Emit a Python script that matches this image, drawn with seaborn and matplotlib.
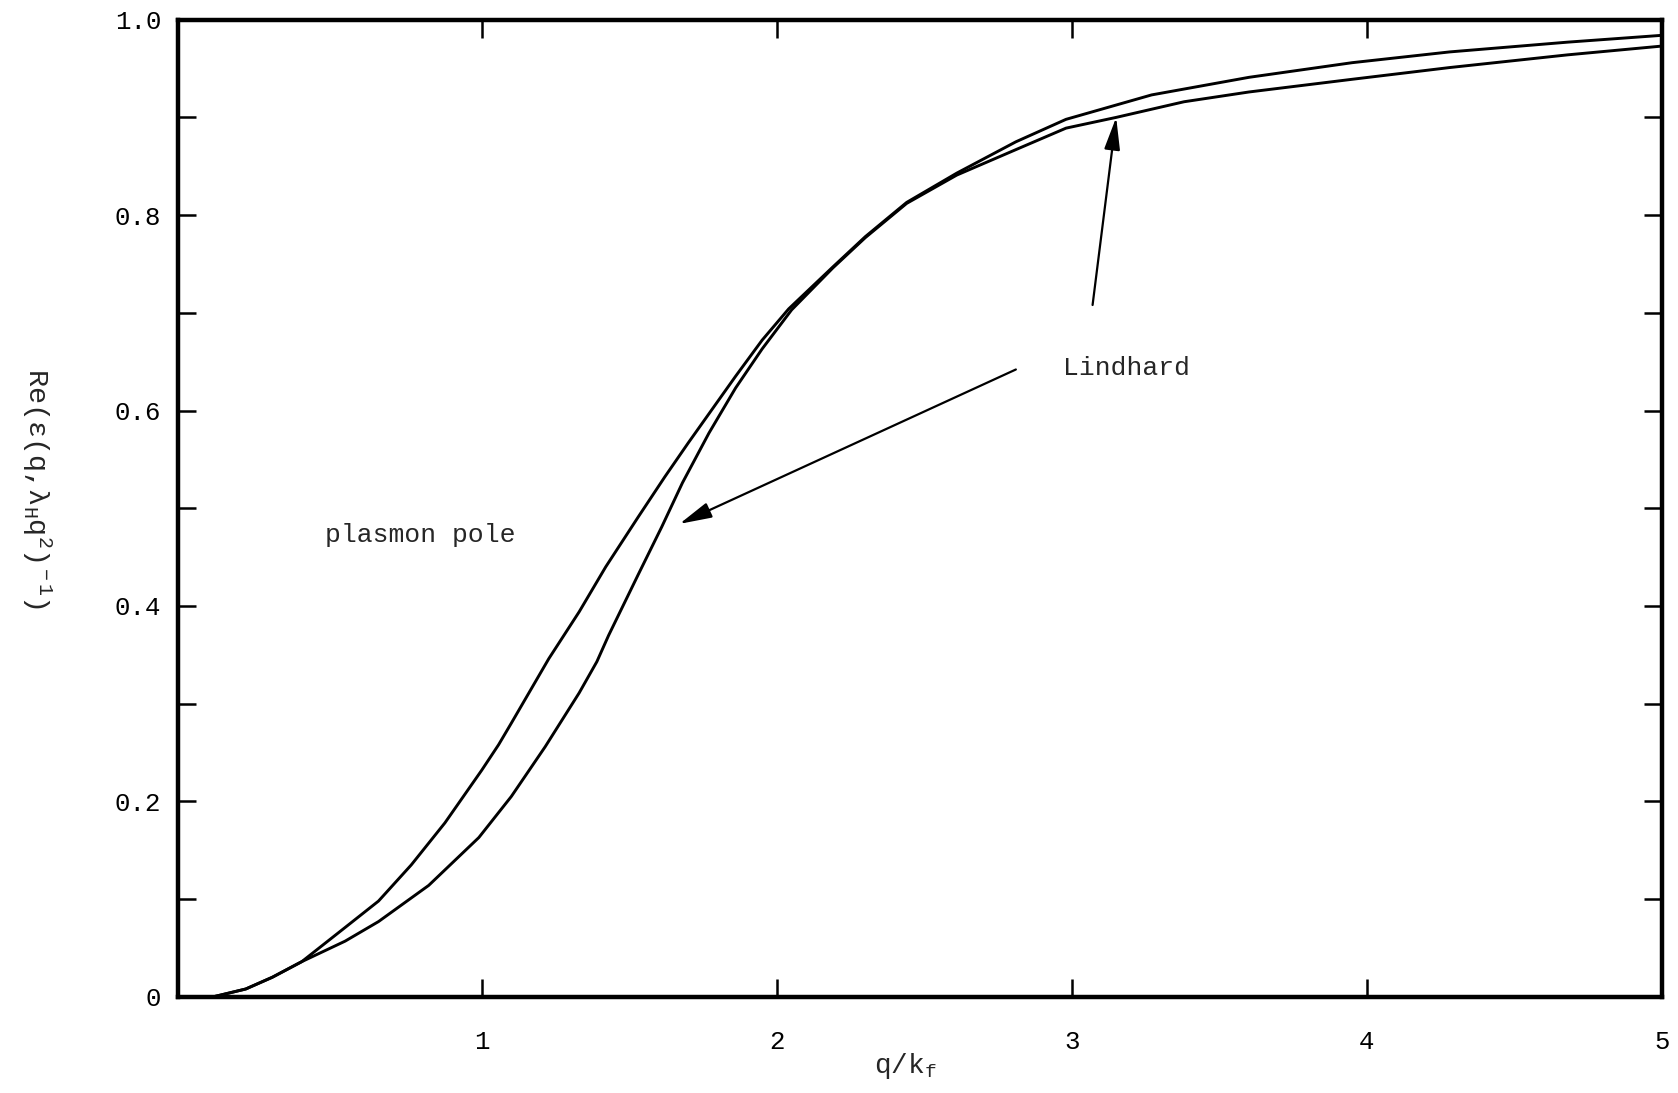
# dielectric_function_plot.py
# Re(eps(q, lambda_H q^2))^-1 vs q/k_f : plasmon pole vs Lindhard

import numpy as np
import pandas as pd
import matplotlib
matplotlib.use("Agg")
import matplotlib.pyplot as plt
import seaborn as sns

# curve values
pole_q = [0.09, 0.20, 0.29, 0.39, 0.537, 0.65, 0.761, 0.875, 1.00, 1.057, 1.10, 1.227,
          1.33, 1.42, 1.53, 1.62, 1.70, 1.78, 1.86, 1.95, 2.04, 2.19, 2.30, 2.44,
          2.61, 2.81, 2.98, 3.27, 3.60, 3.95, 4.28, 4.68, 5.00]
pole_eps = [0.0, 0.008, 0.020, 0.036, 0.071, 0.098, 0.135, 0.178, 0.232, 0.258, 0.280, 0.346,
            0.394, 0.440, 0.491, 0.532, 0.567, 0.601, 0.635, 0.672, 0.704, 0.747, 0.778, 0.813,
            0.843, 0.875, 0.898, 0.923, 0.941, 0.956, 0.967, 0.977, 0.984]

lind_q = [0.09, 0.20, 0.29, 0.39, 0.537, 0.65, 0.82, 0.99, 1.10, 1.215, 1.33, 1.39,
          1.43, 1.53, 1.61, 1.68, 1.77, 1.86, 1.95, 2.05, 2.19, 2.30, 2.44, 2.61,
          2.81, 2.98, 3.15, 3.38, 3.60, 3.95, 4.28, 4.68, 5.00]
lind_eps = [0.0, 0.008, 0.020, 0.036, 0.057, 0.077, 0.114, 0.163, 0.205, 0.256, 0.311, 0.343,
            0.370, 0.432, 0.481, 0.526, 0.577, 0.623, 0.663, 0.703, 0.746, 0.777, 0.812, 0.841,
            0.867, 0.889, 0.900, 0.916, 0.926, 0.939, 0.951, 0.964, 0.973]

x_ticks = [1, 2, 3, 4, 5]
x_ticklabels = ["1", "2", "3", "4", "5"]
y_ticks = [0.0, 0.2, 0.4, 0.6, 0.8, 1.0]
y_ticklabels = ["0", "0.2", "0.4", "0.6", "0.8", "1.0"]

df = pd.concat([
    pd.DataFrame({"q": pole_q, "eps": pole_eps, "model": "plasmon pole"}),
    pd.DataFrame({"q": lind_q, "eps": lind_eps, "model": "Lindhard"}),
])

sns.set_theme(style="ticks")
plt.rcParams["font.family"] = ["Liberation Mono", "DejaVu Sans"]
plt.rcParams["mathtext.fontset"] = "custom"
plt.rcParams["mathtext.rm"] = "Liberation Mono"
plt.rcParams["mathtext.it"] = "Liberation Mono"

fig = plt.figure(figsize=(16.78, 10.93), dpi=100)
ax = fig.add_axes([0.106, 0.088, 0.8845, 0.894])

sns.lineplot(data=df, x="q", y="eps", units="model", estimator=None, sort=False,
             color="black", linewidth=2.1, ax=ax, legend=False)
for ln in ax.lines:
    ln.set_solid_joinstyle("round")

ax.set_xlim(-0.03, 5.0)
ax.set_ylim(0, 1.0)

for s in ax.spines.values():
    s.set_linewidth(3.2)
    s.set_color("black")

ax.set_xticks(x_ticks)
ax.set_xticklabels(x_ticklabels)
ax.set_yticks(y_ticks)
ax.set_yticklabels(y_ticklabels)
ax.set_yticks(np.arange(0.1, 1.0, 0.2), minor=True)
ax.tick_params(axis="both", which="both", direction="in", length=13, width=1.8,
               top=True, right=True, labelsize=18.5, colors="black")
ax.tick_params(axis="x", pad=24)
ax.tick_params(axis="y", pad=12)

ax.set_xlabel(r"q/k$_{\rm f}$", fontsize=20)
ax.xaxis.set_label_coords(0.49, -0.055)
ax.set_ylabel("Re(ε(q,λ$_{\\rm H}$q$^{\\rm 2}$)$^{\\rm -1}$)", fontsize=20.5, rotation=270,
              va="center")
ax.yaxis.set_label_coords(-0.095, 0.52)

ax.text(0.47, 0.473, "plasmon pole", fontsize=19, va="center", ha="left")
ax.text(2.97, 0.644, "Lindhard", fontsize=19, va="center", ha="left")

arrow = dict(arrowstyle="-|>,head_length=0.9,head_width=0.22", color="black",
             lw=1.6, mutation_scale=22, shrinkA=0, shrinkB=0)
ax.annotate("", xy=(3.15, 0.90), xytext=(3.07, 0.708), arrowprops=arrow)
ax.annotate("", xy=(1.67, 0.484), xytext=(2.81, 0.642), arrowprops=arrow)

ax.grid(False)
fig.savefig("out.png", dpi=100, facecolor="white")
